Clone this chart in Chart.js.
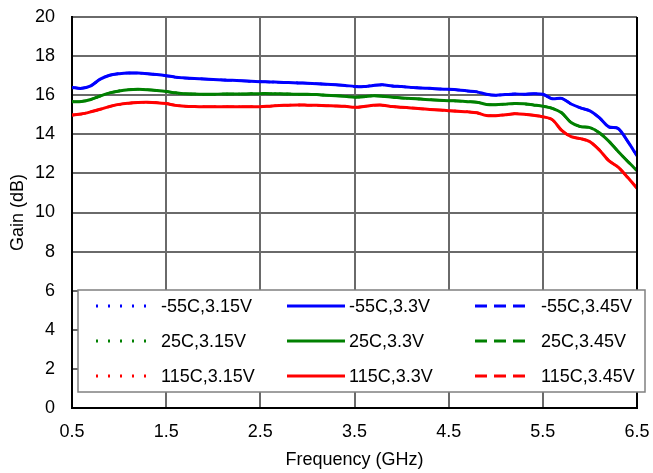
<!DOCTYPE html>
<html>
<head>
<meta charset="utf-8">
<script src="https://cdn.jsdelivr.net/npm/chart.js@4/dist/chart.umd.min.js"></script>
<style>
  html, body { margin: 0; padding: 0; background: #fff; }
  #wrap { width: 653px; height: 473px; }
</style>
</head>
<body>
<div id="wrap"><canvas id="c" width="653" height="473"></canvas></div>
<script>
// ---- Data ----
const freqGHz = [0.5,0.6,0.7,0.8,0.9,1.0,1.1,1.2,1.3,1.4,
  1.5,1.6,1.7,1.8,1.9,2.0,2.1,2.2,2.3,2.4,
  2.5,2.6,2.7,2.8,2.9,3.0,3.1,3.2,3.3,3.4,
  3.5,3.6,3.7,3.8,3.9,4.0,4.1,4.2,4.3,4.4,
  4.5,4.6,4.7,4.8,4.9,5.0,5.1,5.2,5.3,5.4,
  5.5,5.6,5.7,5.8,5.9,6.0,6.1,6.2,6.3,6.4,6.5];

const gainM55 = [16.40,16.35,16.48,16.82,17.02,17.10,17.14,17.13,17.10,17.06,
  17.00,16.92,16.88,16.85,16.83,16.80,16.78,16.76,16.74,16.71,
  16.69,16.68,16.66,16.65,16.63,16.61,16.59,16.56,16.53,16.50,
  16.45,16.44,16.50,16.53,16.47,16.44,16.40,16.37,16.35,16.32,
  16.30,16.27,16.22,16.17,16.05,16.00,16.03,16.06,16.05,16.08,
  16.05,15.82,15.84,15.55,15.35,15.20,14.85,14.38,14.30,13.65,12.90];

const gain25 = [15.67,15.68,15.78,15.96,16.12,16.22,16.28,16.30,16.28,16.24,
  16.19,16.12,16.07,16.06,16.05,16.05,16.06,16.06,16.06,16.07,
  16.08,16.08,16.07,16.06,16.05,16.05,16.03,16.00,15.97,15.94,
  15.90,15.92,15.97,15.95,15.90,15.86,15.83,15.80,15.77,15.74,
  15.72,15.70,15.67,15.64,15.53,15.51,15.54,15.58,15.56,15.50,
  15.44,15.33,15.10,14.60,14.39,14.34,14.08,13.65,13.12,12.62,12.14];

const gain115 = [14.99,15.04,15.15,15.28,15.42,15.53,15.59,15.63,15.64,15.62,
  15.57,15.48,15.44,15.42,15.41,15.41,15.41,15.41,15.41,15.41,
  15.41,15.44,15.47,15.49,15.50,15.49,15.48,15.46,15.45,15.43,
  15.38,15.42,15.48,15.49,15.42,15.38,15.35,15.31,15.27,15.24,
  15.21,15.18,15.15,15.10,14.96,14.95,15.00,15.05,15.03,14.98,
  14.90,14.75,14.20,13.88,13.78,13.62,13.20,12.65,12.32,11.80,11.24];

// The three supply voltages overlap completely at each temperature
const temps = ['-55C', '25C', '115C'];
const volts = ['3.15V', '3.3V', '3.45V'];
const gainByTemp = [gainM55, gain25, gain115];
const xTickLabels = [0.5, 1.5, 2.5, 3.5, 4.5, 5.5, 6.5];
const yTickLabels = [0, 2, 4, 6, 8, 10, 12, 14, 16, 18, 20];

// ---- Styles ----
const tempColors = ['#0000ff', '#008000', '#ff0000'];
const voltDash = [[2, 10], [], [12, 7]];
const FONT = '"Liberation Sans", Arial, sans-serif';
const FS = 18;

const datasets = [];
temps.forEach((t, ti) => {
  volts.forEach((v, vi) => {
    datasets.push({
      label: t + ',' + v,
      data: freqGHz.map((f, i) => ({ x: f, y: gainByTemp[ti][i] })),
      borderColor: tempColors[ti],
      backgroundColor: tempColors[ti],
      borderWidth: vi === 1 ? 3 : 2.5,
      borderDash: voltDash[vi],
      pointRadius: 0,
      tension: 0.3,
      fill: false,
      order: vi === 1 ? 0 : 1,
      _row: ti, _col: vi
    });
  });
});

const frameAndLegend = {
  id: 'frameAndLegend',
  afterDraw(chart) {
    const ctx = chart.ctx;
    const a = chart.chartArea;
    ctx.save();
    ctx.strokeStyle = '#000';
    ctx.lineWidth = 2;
    ctx.beginPath();
    ctx.moveTo(a.right, a.top);
    ctx.lineTo(a.right, a.bottom);
    ctx.stroke();

    // legend box
    const bx = 78, by = 290, bw = 567, bh = 102;
    ctx.fillStyle = '#fff';
    ctx.fillRect(bx, by, bw, bh);
    ctx.strokeStyle = '#808080';
    ctx.lineWidth = 1.5;
    ctx.strokeRect(bx, by, bw, bh);

    const colLine = [[96, 148], [287, 345], [475, 526]];
    const colText = [161, 349, 541];
    const rowY = [306, 341, 376];
    ctx.font = FS + 'px ' + FONT;
    ctx.textBaseline = 'middle';
    ctx.textAlign = 'left';
    chart.data.datasets.forEach(ds => {
      const y = rowY[ds._row];
      const [x0, x1] = colLine[ds._col];
      ctx.strokeStyle = ds.borderColor;
      ctx.lineWidth = 3;
      ctx.setLineDash(ds.borderDash);
      ctx.lineCap = 'butt';
      ctx.beginPath();
      ctx.moveTo(x0, y);
      ctx.lineTo(x1, y);
      ctx.stroke();
      ctx.setLineDash([]);
      ctx.fillStyle = '#000';
      ctx.fillText(ds.label, colText[ds._col], y + 1);
    });
    ctx.restore();
  }
};

new Chart(document.getElementById('c'), {
  type: 'line',
  data: { datasets },
  options: {
    responsive: false,
    animation: false,
    devicePixelRatio: 1,
    layout: { padding: { top: 17, right: 16, bottom: 0, left: 0 } },
    plugins: { legend: { display: false }, tooltip: { enabled: false } },
    scales: {
      x: {
        type: 'linear',
        min: 0.5, max: 6.5,
        afterBuildTicks: s => { s.ticks = xTickLabels.map(v => ({ value: v })); },
        afterFit: s => { s.height = 65; s.paddingLeft = 0; s.paddingRight = 0; },
        ticks: {
          callback: v => v.toFixed(1),
          color: '#000',
          font: { family: FONT, size: FS },
          padding: 13,
          maxRotation: 0
        },
        grid: { color: '#6a6a6a', lineWidth: 2, drawTicks: false },
        border: { color: '#000', width: 2 },
        title: {
          display: true, text: 'Frequency (GHz)', color: '#000',
          font: { family: FONT, size: FS }, padding: { top: 0, bottom: 2 }
        }
      },
      y: {
        min: 0, max: 20,
        afterBuildTicks: s => { s.ticks = yTickLabels.map(v => ({ value: v })); },
        afterFit: s => { s.width = 72; s.paddingTop = 0; s.paddingBottom = 0; },
        ticks: {
          color: '#000',
          font: { family: FONT, size: FS },
          padding: 17
        },
        grid: { color: '#6a6a6a', lineWidth: 2, drawTicks: false },
        border: { color: '#000', width: 2 },
        title: {
          display: true, text: 'Gain (dB)', color: '#000',
          font: { family: FONT, size: FS }, padding: { top: 7, bottom: 0 }
        }
      }
    }
  },
  plugins: [frameAndLegend]
});
</script>
</body>
</html>
